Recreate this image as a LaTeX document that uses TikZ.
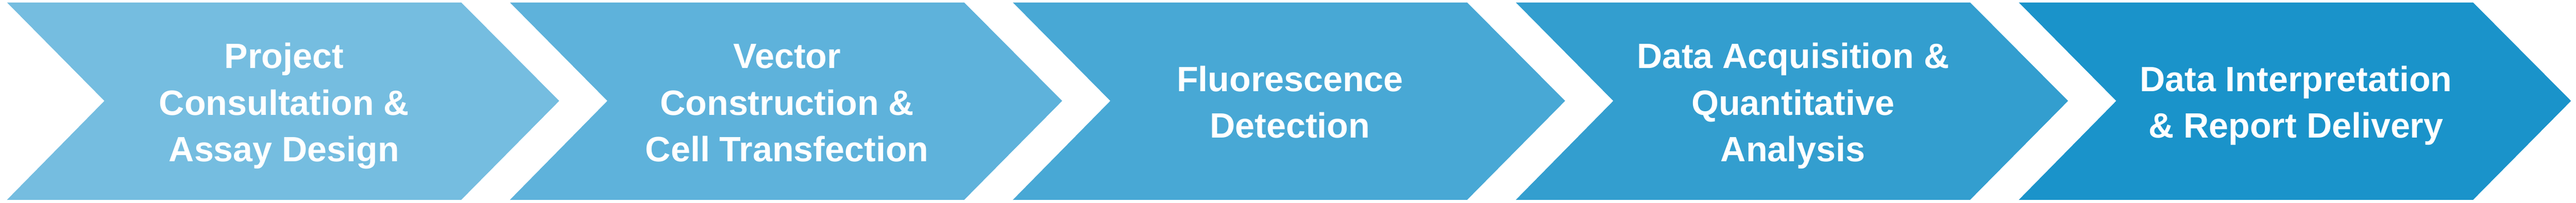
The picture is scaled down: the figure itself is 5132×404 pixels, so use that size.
\documentclass[tikz,border=0pt]{standalone}
\usepackage{fontspec}
\setmainfont{Liberation Sans}

\definecolor{stepA}{RGB}{117,189,224}
\definecolor{stepB}{RGB}{94,178,219}
\definecolor{stepC}{RGB}{72,168,213}
\definecolor{stepD}{RGB}{51,158,207}
\definecolor{stepE}{RGB}{26,147,202}

\begin{document}
\begin{tikzpicture}[x=1pt,y=1pt,yscale=-1,xscale=1,
		lbl/.style={text=white,align=center,inner sep=0pt,anchor=base,font=\bfseries\fontsize{70}{93}\selectfont}]
		\useasboundingbox (0,0) rectangle (5132,404);
		
		%Shapes: chevrons with their labels
		\foreach \i/\c/\b/\t in {0/stepA/322/{Project\\Consultation \&\\Assay Design},
			1/stepB/322/{Vector\\Construction \&\\Cell Transfection},
			2/stepC/275/{Fluorescence\\Detection},
			3/stepD/322/{Data Acquisition \&\\Quantitative\\Analysis},
			4/stepE/275/{Data Interpretation\\\& Report Delivery}}
		{
			\fill [\c] (14+\i*1002,5) -- (919+\i*1002,5) -- (1114+\i*1002,201) -- (919+\i*1002,398) -- (14+\i*1002,398) -- (208+\i*1002,201) -- cycle ;
			% Text Node
			\node [lbl] (step\i) at (566+\i*1002,\b) {\t};
		}
		
\end{tikzpicture}
\end{document}
